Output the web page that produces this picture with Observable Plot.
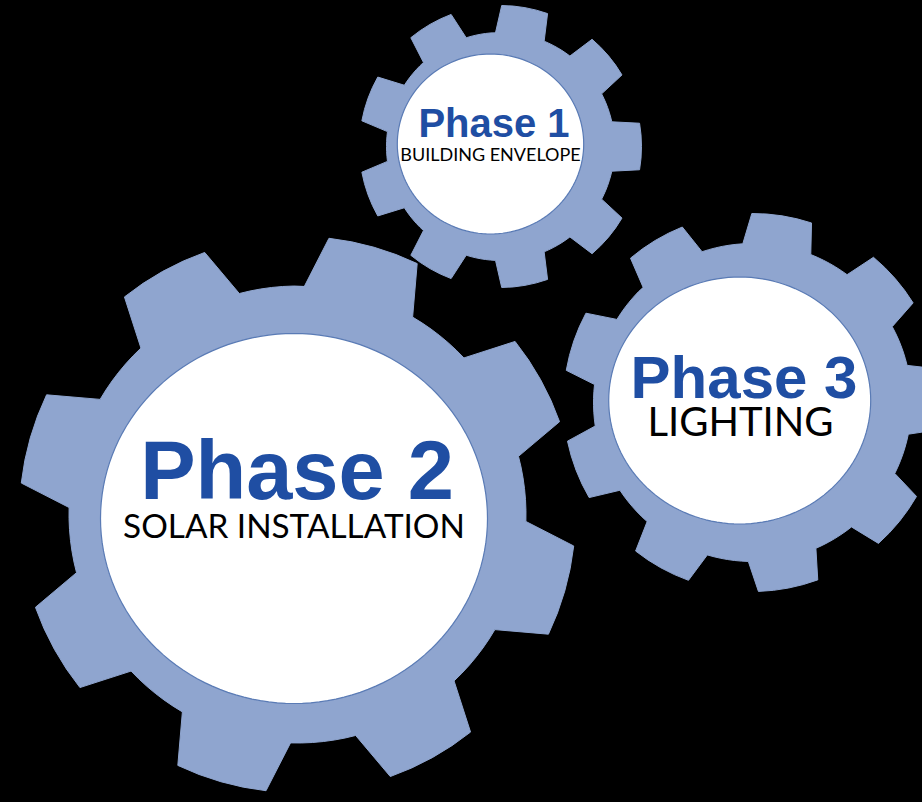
<!DOCTYPE html>
<html><head><meta charset="utf-8">
<script src="https://cdn.jsdelivr.net/npm/d3@7"></script>
<script src="https://cdn.jsdelivr.net/npm/@observablehq/plot@0.6"></script>
<style>html,body{margin:0;padding:0;background:#000;} #chart svg{display:block;}</style>
</head><body><div id="chart"></div>
<script>
// ---- data (gear diagram) ----
const gearNames  = ["Phase 1", "Phase 2", "Phase 3"];
const gearLabels = ["BUILDING ENVELOPE", "SOLAR INSTALLATION", "LIGHTING"];
const gearX      = [500, 297, 752];      // gear centres
const gearY      = [146, 514, 402];
const rootRadius = [114, 228.5, 159];
const tipRadius  = [141, 278, 189];
const toothCount = [9, 8, 9];
const toothPhase = [-80, -74, -121];     // angle of first tooth (deg)
const tipHalf    = [9.5, 9.5, 9.2];      // half angular width at tip (deg)
const rootHalf   = [12.5, 14.25, 12.5];  // half angular width at root (deg)
const hubX       = [490, 293.5, 739.2];  // white hub ellipses
const hubY       = [143.5, 518, 400];
const hubRx      = [93.2, 193.5, 131];
const hubRy      = [90, 185, 123.5];

// ---- layout / style ----
const W = 922, H = 802;
const gearFill = "#8FA5CF", hubStroke = "#5A7BB5", titleColor = "#1F4EA3";
const titleSize = [40, 83, 60], titleDy = [-7.5, -20, -3], titleDx = [3.5, 3, 4.3];
const subSize = [18, 33.3, 40], subDy = [16.5, 19, 35], subDx = [0, 0, 0.8];

const rad = d => d * Math.PI / 180;
const gearPts = [], hubPts = [];
gearNames.forEach((g, i) => {
  const P = (a, r) => ({gear: g, x: gearX[i] + r * Math.cos(rad(a)), y: gearY[i] + r * Math.sin(rad(a))});
  const n = toothCount[i], per = 360 / n;
  for (let k = 0; k < n; k++) {
    const c = toothPhase[i] + k * per;
    gearPts.push(P(c - rootHalf[i], rootRadius[i]));
    for (let t = 0; t <= 4; t++) gearPts.push(P(c - tipHalf[i] + t * tipHalf[i] / 2, tipRadius[i]));
    gearPts.push(P(c + rootHalf[i], rootRadius[i]));
    const a0 = c + rootHalf[i], a1 = c + per - rootHalf[i];
    for (let t = 1; t < 6; t++) gearPts.push(P(a0 + (a1 - a0) * t / 6, rootRadius[i]));
  }
  for (let t = 0; t < 144; t++) hubPts.push({gear: g, x: hubX[i] + hubRx[i] * Math.cos(rad(t * 2.5)), y: hubY[i] + hubRy[i] * Math.sin(rad(t * 2.5))});
});

const idx = d3.range(gearNames.length);

const chart = Plot.plot({
  width: W, height: H, margin: 0,
  x: {domain: [0, W], range: [0, W], axis: null},
  y: {domain: [0, H], range: [0, H], axis: null},
  style: {background: "#000"},
  marks: [
    Plot.line(gearPts, {x: "x", y: "y", z: "gear", fill: gearFill, stroke: gearFill, strokeWidth: 1, curve: "linear-closed"}),
    Plot.line(hubPts, {x: "x", y: "y", z: "gear", fill: "white", stroke: hubStroke, strokeWidth: 1.2, curve: "linear-closed"}),
    Plot.text(idx, {x: i => hubX[i], y: i => hubY[i] + titleDy[i], text: i => gearNames[i],
      fill: titleColor, fontWeight: "bold", fontFamily: "Liberation Sans", lineAnchor: "bottom", textAnchor: "middle"}),
    Plot.text(idx, {x: i => hubX[i], y: i => hubY[i] + subDy[i], text: i => gearLabels[i],
      fill: "#000", fontFamily: "Lato", lineAnchor: "bottom", textAnchor: "middle"})
  ]
});
// per-label font size and horizontal nudge
d3.select(chart).selectAll("g[aria-label=text]").each(function(_, m) {
  d3.select(this).selectAll("text").each(function(_, j) {
    d3.select(this)
      .attr("font-size", m === 0 ? titleSize[j] : subSize[j])
      .attr("dx", m === 0 ? titleDx[j] : subDx[j]);
  });
});
document.getElementById("chart").appendChild(chart);
</script></body></html>
